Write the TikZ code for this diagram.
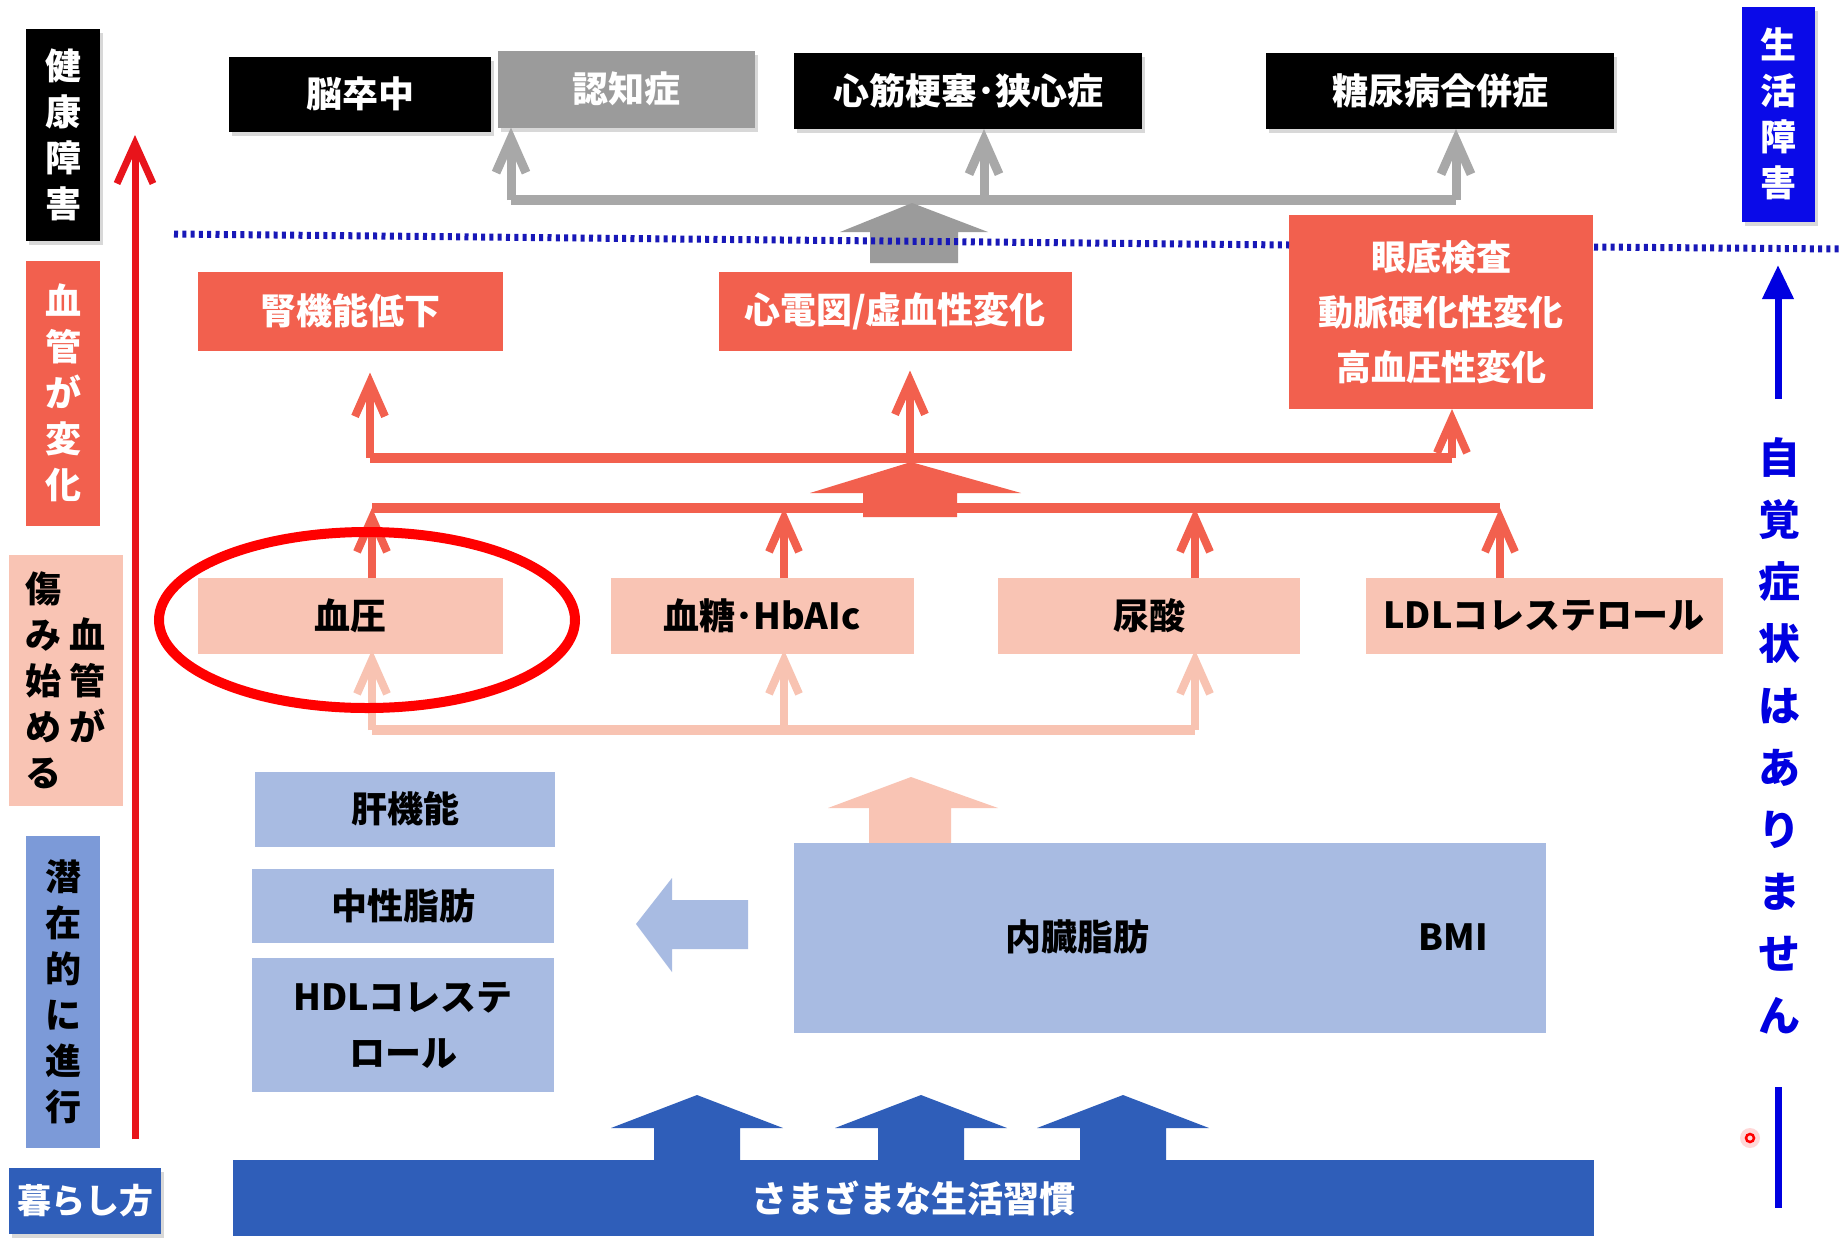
\documentclass[tikz,border=0pt]{standalone}
\usepackage{fontspec}
\setmainfont{Noto Sans CJK JP}
\usetikzlibrary{arrows.meta,shadows}
\definecolor{redbox}{HTML}{F2604E}
\definecolor{pinkbox}{HTML}{F9C4B4}
\definecolor{pinkline}{HTML}{F8C3B2}
\definecolor{lblue}{HTML}{A8BBE2}
\definecolor{mblue}{HTML}{7C9AD8}
\definecolor{dblue}{HTML}{2F5EB9}
\definecolor{pureblue}{HTML}{0A0AE8}
\definecolor{txtblue}{HTML}{0000E0}
\definecolor{grayline}{HTML}{A8A8A8}
\definecolor{graybox}{HTML}{9B9B9B}
\definecolor{redarrow}{HTML}{E8141B}
\definecolor{dotblue}{HTML}{1818B8}
\begin{document}
\begin{tikzpicture}[x=1pt,y=-1pt,
  box/.style={inner sep=0pt, outer sep=0pt, align=center, font=\bfseries\fontsize{36}{46}\selectfont},
  shad/.style={drop shadow={shadow xshift=3pt, shadow yshift=-4pt, opacity=0.3}},
  blackbox/.style={box, shad, fill=black, text=white, minimum height=76},
  redbx/.style={box, fill=redbox, text=white, minimum height=79},
  pinkbx/.style={box, fill=pinkbox, text=black, minimum height=76},
  bluebx/.style={box, fill=lblue, text=black},
  vtext/.style={inner sep=0pt, align=center, font=\bfseries\fontsize{36}{46}\selectfont},
  grayarr/.style={draw=grayline, line width=9, -{Straight Barb[length=34pt, width=30pt]}},
  redarr/.style={draw=redbox, line width=8, -{Straight Barb[length=34pt, width=30pt]}},
  pinkarr/.style={draw=pinkline, line width=8, -{Straight Barb[length=34pt, width=30pt]}},
  bus/.style={line width=10, line cap=butt},
  dotl/.style={draw=dotblue, line width=7, dash pattern=on 4pt off 4.3pt},
]
\useasboundingbox (0,0) rectangle (1841,1240);
\fill[white] (0,0) rectangle (1841,1240);

% ---------- left column ----------
\node[box, shad, fill=black, text=white, minimum width=74, minimum height=212] (kenko) at (63,135) {健\\康\\障\\害};
\node[box, fill=redbox, text=white, minimum width=74, minimum height=265] (henka) at (63,393) {血\\管\\が\\変\\化};
\node[box, fill=pinkbox, minimum width=114, minimum height=251] (itami) at (66,680) {};
\node[vtext] (itamiL) at (43,680) {傷\\み\\始\\め\\る};
\node[vtext] (itamiR) at (87,680) {血\\管\\が};
\node[box, fill=mblue, text=black, minimum width=74, minimum height=312] (senzai) at (63,992) {潜\\在\\的\\に\\進\\行};
\node[box, shad, fill=dblue, text=white, minimum width=152, minimum height=66, font=\bfseries\fontsize{34}{40}\selectfont] (kurashi) at (85,1201) {暮らし方};

% red vertical arrow
\coordinate (ra0) at (135,1139);
\coordinate (ra1) at (135,135);
\draw[draw=redarrow, line width=7, -{Straight Barb[length=40pt, width=36pt]}] (ra0) -- (ra1);

% ---------- top boxes ----------
\node[blackbox, minimum width=262, minimum height=75] (nou) at (360,94) {脳卒中};
\node[box, shad, fill=graybox, text=white, minimum width=257, minimum height=77] (nin) at (626,89) {認知症};
\node[blackbox, minimum width=348] (shin) at (968,91) {心筋梗塞･狭心症};
\node[blackbox, minimum width=348] (tou) at (1440,91) {糖尿病合併症};
\node[box, shad, fill=pureblue, text=white, minimum width=73, minimum height=215] (seikatsu) at (1778,114) {生\\活\\障\\害};

% gray bus
\coordinate (gb1) at (511,200);
\coordinate (gb2) at (984,200);
\coordinate (gb3) at (1456,200);
\draw[bus, draw=grayline] (gb1) -- (gb3);
\draw[grayarr] (gb1) -- (gb1 |- nin.south);
\draw[grayarr] (gb2) -- (gb2 |- shin.south);
\draw[grayarr] (gb3) -- (gb3 |- tou.south);

% ---------- red boxes ----------
\node[redbx, minimum width=305] (jin) at (350,311) {腎機能低下};
\node[redbx, minimum width=353] (ecg) at (895,311) {心電図/虚血性変化};
\node[box, fill=redbox, text=white, minimum width=304, minimum height=194, font=\bfseries\fontsize{35}{55}\selectfont] (gantei) at (1441,312) {眼底検査\\動脈硬化性変化\\高血圧性変化};

% gray block arrow
\fill[graybox] (912,203) -- (988,232) -- (958,232) -- (958,263) -- (870,263) -- (870,232) -- (840,232) -- cycle;

% blue dotted line
\draw[dotl] (174,234) -- (1289,245);
\draw[dotl] (1594,247) -- (1841,249);

% ---------- red buses ----------
\coordinate (ru1) at (370,458);
\coordinate (ru2) at (910,458);
\coordinate (ru3) at (1452,458);
\draw[bus, draw=redbox] (ru1) -- (ru3);
\draw[redarr, shorten >=22pt] (ru1) -- (ru1 |- jin.south);
\draw[redarr, shorten >=20pt] (ru2) -- (ru2 |- ecg.south);
\draw[redarr] (ru3) -- (ru3 |- gantei.south);

% red block arrow
\fill[redbox] (911,462) -- (1021,493) -- (957,493) -- (957,517) -- (863,517) -- (863,493) -- (810,493) -- cycle;

% ---------- pink boxes ----------
\node[pinkbx, minimum width=305] (ketsuatsu) at (350,616) {血圧};
\node[pinkbx, minimum width=303] (kettou) at (762,616) {血糖･HbAIc};
\node[pinkbx, minimum width=302] (nyousan) at (1149,616) {尿酸};
\node[pinkbx, minimum width=357] (ldl) at (1544,616) {LDLコレステロール};

\coordinate (rl1) at (372,508);
\coordinate (rl2) at (784,508);
\coordinate (rl3) at (1195,508);
\coordinate (rl4) at (1500,508);
\draw[bus, draw=redbox] (rl1) -- (rl4);
\draw[redarr] (rl1 |- ketsuatsu.north) -- (rl1);
\draw[redarr] (rl2 |- kettou.north) -- (rl2);
\draw[redarr] (rl3 |- nyousan.north) -- (rl3);
\draw[redarr] (rl4 |- ldl.north) -- (rl4);

% light pink bus
\coordinate (pl1) at (372,730);
\coordinate (pl2) at (784,730);
\coordinate (pl3) at (1195,730);
\draw[bus, draw=pinkline] (pl1) -- (pl3);
\draw[pinkarr, shorten >=-4pt] (pl1) -- (pl1 |- ketsuatsu.south);
\draw[pinkarr, shorten >=-4pt] (pl2) -- (pl2 |- kettou.south);
\draw[pinkarr, shorten >=-4pt] (pl3) -- (pl3 |- nyousan.south);

% light pink block arrow
\fill[pinkbox] (911,777) -- (998,808) -- (951,808) -- (951,843) -- (869,843) -- (869,808) -- (828,808) -- cycle;

% ---------- blue boxes ----------
\node[bluebx, minimum width=300, minimum height=75] (kan) at (405,809) {肝機能};
\node[bluebx, minimum width=302, minimum height=74] (chusei) at (403,906) {中性脂肪};
\node[bluebx, minimum width=302, minimum height=134, font=\bfseries\fontsize{36}{56}\selectfont] (hdl) at (403,1025) {HDLコレステ\\ロール};
\node[bluebx, minimum width=752, minimum height=190] (naizou) at (1170,938) {};
\node[vtext] (naizouT) at (1077,937) {内臓脂肪};
\node[vtext] (bmi) at (1453,937) {BMI};

% left block arrow
\fill[lblue] (636,924) -- (672,878) -- (672,900) -- (748,900) -- (748,949) -- (672,949) -- (672,972) -- cycle;

% ---------- bottom bar ----------
\node[box, fill=dblue, text=white, minimum width=1361, minimum height=76] (bar) at (913,1198) {さまざまな生活習慣};
\foreach \cx in {697,921,1123}{
  \fill[dblue] (\cx,1095) -- (\cx+86,1128) -- (\cx+43,1128) -- (\cx+43,1161) -- (\cx-43,1161) -- (\cx-43,1128) -- (\cx-86,1128) -- cycle;
}

% ---------- right side ----------
\coordinate (ba0) at (1778,399);
\coordinate (ba1) at (1778,265);
\draw[draw=txtblue, line width=7, -{Triangle[length=34pt, width=30pt]}] (ba0) -- (ba1);
\node[inner sep=0pt, align=center, text=txtblue, font=\bfseries\fontsize{42}{62}\selectfont] (jikaku) at (1779,736) {自\\覚\\症\\状\\は\\あ\\り\\ま\\せ\\ん};
\coordinate (bl0) at (1778,1087);
\coordinate (bl1) at (1778,1208);
\draw[draw=txtblue, line width=7] (bl0) -- (bl1);
\fill[red!25, opacity=0.6] (1750,1138) circle [radius=10];
\draw[red, line width=2.5] (1750,1138) circle [radius=4];

% red ellipse
\draw[draw=red, line width=10] (367,620) ellipse [x radius=208, y radius=88];
\end{tikzpicture}
\end{document}
